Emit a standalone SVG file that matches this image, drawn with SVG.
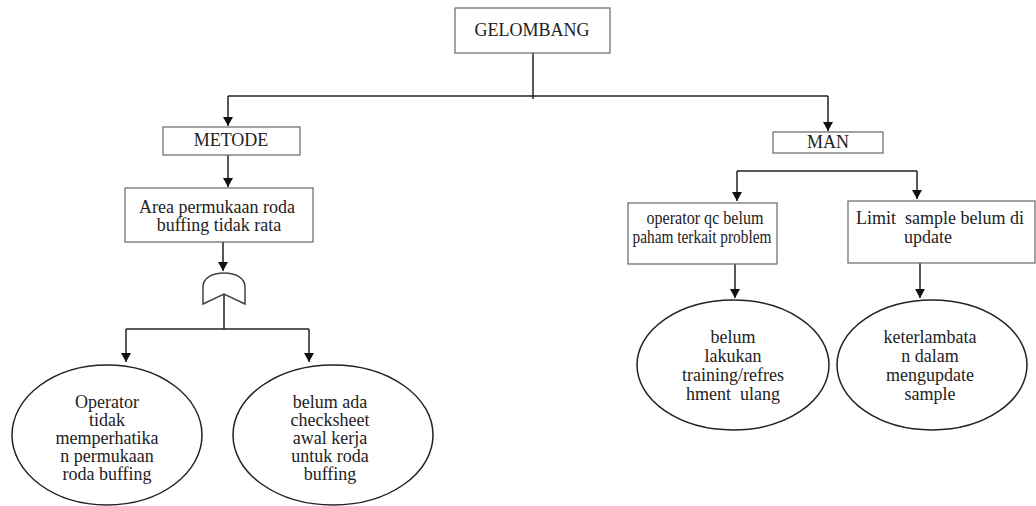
<svg xmlns="http://www.w3.org/2000/svg" width="1036" height="506" viewBox="0 0 1036 506">
<style>
.box{fill:#fff;stroke:#666;stroke-width:1.2}
.ell{fill:#fff;stroke:#222;stroke-width:1.5}
.ln{fill:none;stroke:#222;stroke-width:1.5}
.t{font-family:"Liberation Serif","Times New Roman",serif;font-size:18px;fill:#222;text-anchor:middle}
</style>
<defs>
<marker id="ah" markerUnits="userSpaceOnUse" markerWidth="10" markerHeight="10" refX="9" refY="5" orient="auto">
<path d="M0,0 L9,5 L0,10 Z" fill="#111"/>
</marker>
</defs>
<rect width="1036" height="506" fill="#fff"/>
<g id="connectors">
<path class="ln" d="M533,53 V99"/>
<path class="ln" d="M228,96 H828"/>
<path class="ln" d="M228,96 V126" marker-end="url(#ah)"/>
<path class="ln" d="M828,96 V131" marker-end="url(#ah)"/>
<path class="ln" d="M228,155 V187" marker-end="url(#ah)"/>
<path class="ln" d="M223,242 V271" marker-end="url(#ah)"/>
<path class="ln" d="M224,294 V329"/>
<path class="ln" d="M126,329 H309"/>
<path class="ln" d="M126,329 V362" marker-end="url(#ah)"/>
<path class="ln" d="M309,329 V362" marker-end="url(#ah)"/>
<path class="ln" d="M737,171 H917"/>
<path class="ln" d="M737,171 V201" marker-end="url(#ah)"/>
<path class="ln" d="M917,171 V199" marker-end="url(#ah)"/>
<path class="ln" d="M735,264 V298" marker-end="url(#ah)"/>
<path class="ln" d="M920,263 V298" marker-end="url(#ah)"/>
</g>
<g id="gelombang">
<rect class="box" x="455" y="8" width="155" height="45"/>
<text class="t" x="532" y="36">GELOMBANG</text>
</g>
<g id="metode">
<rect class="box" x="163" y="127" width="137" height="28"/>
<text class="t" x="231" y="146">METODE</text>
</g>
<g id="man">
<rect class="box" x="773" y="132" width="110" height="21"/>
<text class="t" x="828" y="148">MAN</text>
</g>
<g id="area">
<rect class="box" x="125" y="188" width="188" height="54"/>
<text class="t" x="217" y="213">Area permukaan roda</text>
<text class="t" x="219" y="231">buffing tidak rata</text>
</g>
<g id="gate">
<path d="M203,304 L203,287 C203,278 212,273 224,273 C236,273 245,278 245,287 L245,304 L224,294 Z" fill="#fff" stroke="#444" stroke-width="1.5"/>
</g>
<g id="operator-tidak">
<ellipse class="ell" cx="107" cy="435" rx="95" ry="70"/>
<text class="t" x="107" y="408">Operator</text>
<text class="t" x="107" y="426">tidak</text>
<text class="t" x="107" y="444">memperhatika</text>
<text class="t" x="107" y="462">n permukaan</text>
<text class="t" x="107" y="480">roda buffing</text>
</g>
<g id="belum-checksheet">
<ellipse class="ell" cx="333" cy="435" rx="100" ry="70"/>
<text class="t" x="330" y="408">belum ada</text>
<text class="t" x="330" y="426">checksheet</text>
<text class="t" x="330" y="444">awal kerja</text>
<text class="t" x="330" y="462">untuk roda</text>
<text class="t" x="330" y="480">buffing</text>
</g>
<g id="operator-qc">
<rect class="box" x="628" y="203" width="149" height="61"/>
<text class="t" x="705" y="224" textLength="117" lengthAdjust="spacingAndGlyphs">operator qc belum</text>
<text class="t" x="702" y="243" textLength="139" lengthAdjust="spacingAndGlyphs">paham terkait problem</text>
</g>
<g id="limit-sample">
<rect class="box" x="848" y="201" width="187" height="62"/>
<text class="t" x="940" y="224" xml:space="preserve">Limit  sample belum di</text>
<text class="t" x="928" y="243">update</text>
</g>
<g id="belum-training">
<ellipse class="ell" cx="733" cy="365" rx="96" ry="65"/>
<text class="t" x="733" y="343">belum</text>
<text class="t" x="733" y="362">lakukan</text>
<text class="t" x="733" y="381">training/refres</text>
<text class="t" x="733" y="400" xml:space="preserve">hment  ulang</text>
</g>
<g id="keterlambatan">
<ellipse class="ell" cx="932" cy="365" rx="95" ry="65"/>
<text class="t" x="930" y="343">keterlambata</text>
<text class="t" x="930" y="362">n dalam</text>
<text class="t" x="930" y="381">mengupdate</text>
<text class="t" x="930" y="400">sample</text>
</g>
</svg>
